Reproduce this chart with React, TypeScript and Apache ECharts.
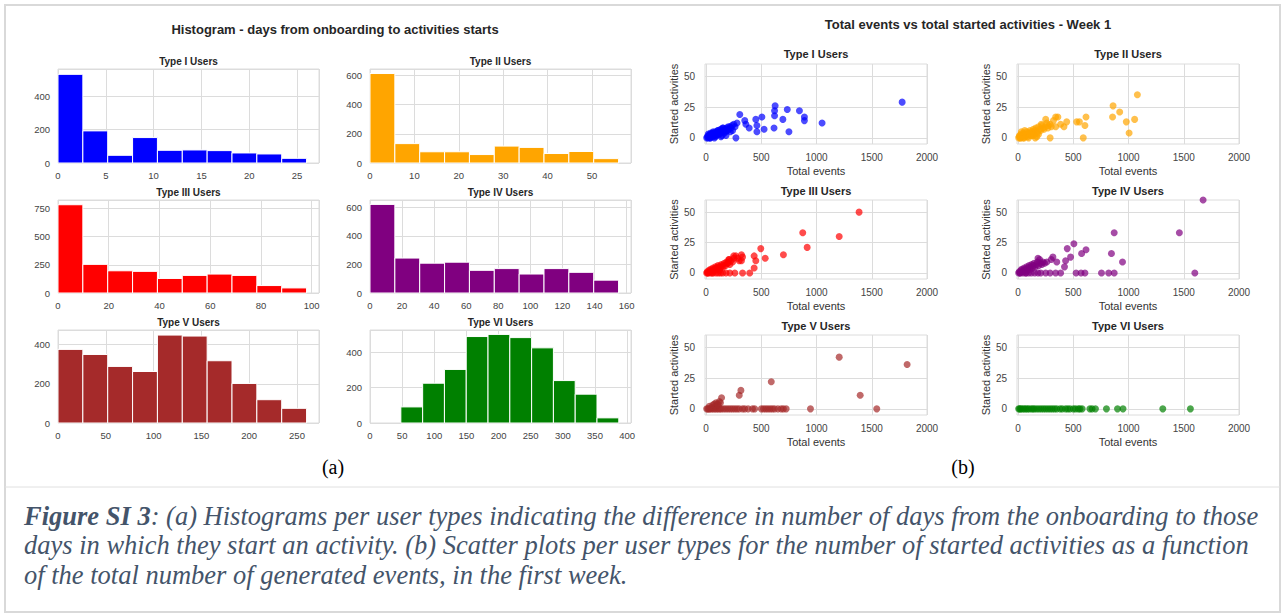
import React, { useEffect, useRef } from 'react';
import * as echarts from 'echarts';

const SANS = '"Liberation Sans", Arial, Helvetica, sans-serif';
const SERIF = '"Liberation Serif", "Times New Roman", serif';

// ---------- Histograms: days from onboarding to activity start ----------
const histTitles = ['Type I Users', 'Type II Users', 'Type III Users', 'Type IV Users', 'Type V Users', 'Type VI Users'];
const histColors = ['#0000ff', '#ffa500', '#ff0000', '#800080', '#a52a2a', '#008000'];
const histBinStarts = [0, 0, 0, 0, 0, 48];
const histBinWidths = [2.6, 5.6, 9.8, 15.5, 26, 33.9];
const typeIDays = [530, 192, 46, 152, 76, 78, 74, 60, 54, 28];
const typeIIDays = [614, 133, 77, 77, 58, 116, 107, 65, 79, 30];
const typeIIIDays = [783, 254, 197, 192, 129, 156, 168, 156, 66, 45];
const typeIVDays = [621, 245, 209, 216, 159, 171, 133, 171, 145, 90];
const typeVDays = [376, 350, 289, 263, 449, 444, 318, 202, 119, 75];
const typeVIDays = [91, 225, 303, 489, 501, 483, 425, 240, 163, 29];
const histCounts = [typeIDays, typeIIDays, typeIIIDays, typeIVDays, typeVDays, typeVIDays];
const histXMax = [27.3, 58.8, 102.9, 162.75, 273, 406];
const histXStep = [5, 10, 20, 20, 50, 50];
const histYMax = [562, 645, 825, 652, 475, 526];
const histYStep = [200, 200, 250, 200, 200, 200];

// ---------- Scatter: total events vs started activities (week 1) ----------
const scatterTitles = histTitles;
const scatterColors = histColors;
const scatterXTicks = [0, 500, 1000, 1500, 2000];
const scatterYTicks = [0, 25, 50];

const typeIEvents = [5, 12, 18, 25, 30, 38, 45, 52, 60, 66, 72, 80, 88, 95, 102, 110, 118, 125, 132, 140, 148, 155, 162, 170, 178, 185, 195, 205, 215, 225, 240, 250, 262, 20, 35, 48, 58, 75, 90, 105, 120, 135, 150, 165, 180, 200, 220, 28, 42, 65, 85, 115, 145, 175, 235, 270, 280, 305, 350, 360, 390, 450, 460, 460, 505, 525, 615, 620, 620, 625, 695, 735, 750, 845, 890, 890, 1050, 1775];
const typeIStarted = [0, 1, 0, 2, 1, 0, 3, 2, 1, 4, 2, 3, 5, 3, 4, 6, 4, 5, 7, 6, 5, 8, 6, 7, 5, 8, 6, 7, 9, 8, 6, 11, 9, 3, 0, 1, 4, 0, 2, 6, 3, 1, 8, 4, 2, 9, 5, 2, 4, 5, 1, 3, 2, 6, 10, 0, 12, 19, 14, 11, 8, 15, 10, 5, 17, 7, 8, 18, 22, 26, 15, 23, 5, 22, 17, 14, 12, 29];

const typeIIEvents = [5, 10, 15, 22, 28, 35, 40, 48, 55, 62, 70, 78, 85, 92, 100, 108, 115, 122, 130, 138, 145, 152, 160, 168, 175, 185, 195, 205, 215, 225, 235, 245, 260, 275, 290, 300, 20, 45, 65, 95, 125, 155, 185, 30, 60, 110, 140, 170, 250, 290, 340, 340, 360, 385, 415, 440, 530, 555, 590, 605, 615, 855, 860, 920, 980, 1005, 1055, 1080, 320, 270, 210];
const typeIIStarted = [0, 1, 2, 0, 3, 1, 2, 4, 0, 3, 2, 5, 1, 4, 3, 6, 2, 5, 4, 7, 3, 6, 8, 5, 4, 9, 7, 6, 10, 8, 7, 9, 12, 10, 11, 9, 0, 0, 1, 0, 2, 0, 3, 5, 6, 3, 2, 1, 15, 0, 17, 9, 17, 11, 9, 13, 13, 13, 0, 10, 17, 17, 26, 21, 13, 4, 15, 35, 14, 8, 11];

const typeIIIEvents = [5, 10, 18, 25, 32, 40, 48, 55, 62, 70, 78, 85, 92, 100, 108, 115, 122, 130, 138, 145, 155, 165, 175, 185, 195, 205, 215, 225, 240, 250, 15, 40, 65, 90, 110, 130, 150, 180, 215, 260, 330, 395, 195, 210, 270, 300, 320, 320, 330, 435, 435, 450, 495, 535, 700, 875, 915, 1205, 1385, 285, 250];
const typeIIIStarted = [0, 1, 0, 2, 1, 3, 2, 0, 4, 3, 2, 5, 4, 3, 6, 5, 2, 4, 7, 6, 5, 8, 6, 9, 8, 11, 7, 10, 9, 12, 0, 0, 0, 0, 0, 0, 0, 0, 0, 0, 0, 0, 8, 11, 14, 10, 15, 10, 13, 14, 4, 10, 20, 12, 15, 33, 21, 30, 50, 12, 14];

const typeIVEvents = [5, 10, 18, 25, 32, 40, 48, 55, 62, 70, 78, 85, 92, 100, 108, 115, 122, 130, 138, 145, 155, 165, 175, 185, 195, 205, 215, 225, 240, 20, 45, 70, 95, 120, 150, 180, 205, 250, 290, 340, 385, 180, 315, 350, 420, 430, 445, 475, 505, 525, 570, 575, 605, 615, 755, 820, 845, 870, 870, 945, 1460, 1600, 1675, 260, 300];
const typeIVStarted = [0, 1, 0, 2, 3, 1, 2, 4, 3, 0, 5, 2, 4, 6, 3, 5, 7, 4, 6, 8, 5, 7, 9, 6, 11, 8, 7, 9, 8, 0, 0, 0, 0, 0, 0, 0, 0, 0, 0, 0, 0, 12, 13, 9, 5, 10, 20, 13, 24, 0, 0, 16, 0, 19, 0, 0, 16, 0, 33, 9, 33, 0, 60, 9, 11];

const typeVEvents = [5, 15, 25, 35, 50, 65, 80, 95, 110, 125, 140, 160, 180, 200, 220, 240, 260, 280, 300, 330, 350, 380, 420, 440, 500, 520, 540, 560, 580, 600, 620, 650, 680, 700, 725, 945, 1545, 30, 50, 60, 75, 85, 90, 105, 110, 120, 130, 140, 300, 315, 590, 1205, 1395, 1820];
const typeVStarted = [0, 0, 0, 0, 0, 0, 0, 0, 0, 0, 0, 0, 0, 0, 0, 0, 0, 0, 0, 0, 0, 0, 0, 0, 0, 0, 0, 0, 0, 0, 0, 0, 0, 0, 0, 0, 0, 2, 1, 3, 4, 2, 5, 4, 3, 6, 5, 9, 11, 15, 22, 42, 11, 36];

const typeVIEvents = [5, 15, 25, 40, 55, 70, 85, 100, 120, 135, 150, 170, 190, 210, 230, 250, 270, 290, 310, 330, 350, 380, 400, 430, 450, 470, 500, 520, 545, 560, 580, 650, 670, 700, 800, 900, 950, 1310, 1560];
const typeVIStarted = [0, 0, 0, 0, 0, 0, 0, 0, 0, 0, 0, 0, 0, 0, 0, 0, 0, 0, 0, 0, 0, 0, 0, 0, 0, 0, 0, 0, 0, 0, 0, 0, 0, 0, 0, 0, 0, 0, 0];

const scatterEvents = [typeIEvents, typeIIEvents, typeIIIEvents, typeIVEvents, typeVEvents, typeVIEvents];
const scatterStarted = [typeIStarted, typeIIStarted, typeIIIStarted, typeIVStarted, typeVStarted, typeVIStarted];

const captionLines = [
  ['Figure SI 3', ': (a) Histograms per user types indicating the difference in number of days from the onboarding to those'],
  ['', 'days in which they start an activity. (b) Scatter plots per user types for the number of started activities as a function'],
  ['', 'of the total number of generated events, in the first week.'],
];

// ---------- layout ----------
const histLefts = [58, 370];
const histTops = [69, 200, 330];
const histW = 261;
const histH = [94, 93, 93];
const scatLefts = [705, 1017];
const scatTops = [64, 200, 335];
const scatW = 222;
const scatH = [80, 79, 80];

const GRID_LINE = '#dcdcdc';
const TICK_COLOR = '#444444';
const TITLE_COLOR = '#262626';

function multipleOf(v: number, step: number) {
  const r = v / step;
  return Math.abs(r - Math.round(r)) < 1e-6;
}

function buildOption() {
  const grid: any[] = [];
  const xAxis: any[] = [];
  const yAxis: any[] = [];
  const series: any[] = [];
  const graphic: any[] = [];

  const text = (x: number, y: number, str: string, size: number, weight = 'normal', color = TITLE_COLOR, family = SANS) => ({
    type: 'text', x, y, silent: true,
    style: {
      text: str, fill: color, fontSize: size, fontWeight: weight, fontFamily: family,
      align: 'center', verticalAlign: 'middle', textAlign: 'center', textVerticalAlign: 'middle',
    },
  });

  // histograms
  histCounts.forEach((counts, i) => {
    const col = i % 2;
    const row = Math.floor(i / 2);
    grid.push({
      left: histLefts[col], top: histTops[row], width: histW, height: histH[row],
      show: true, borderColor: GRID_LINE, borderWidth: 1, containLabel: false,
    });
    const xs = histXStep[i];
    const ys = histYStep[i];
    xAxis.push({
      type: 'value', gridIndex: i, min: 0, max: histXMax[i], interval: xs,
      axisLine: { show: false }, axisTick: { show: false },
      splitLine: { show: true, lineStyle: { color: GRID_LINE, width: 1 } },
      axisLabel: {
        color: TICK_COLOR, fontSize: 9.5, fontFamily: SANS, margin: 7,
        formatter: (v: number) => (multipleOf(v, xs) ? String(v) : ''),
      },
    });
    yAxis.push({
      type: 'value', gridIndex: i, min: 0, max: histYMax[i], interval: ys,
      axisLine: { show: false }, axisTick: { show: false },
      splitLine: { show: true, lineStyle: { color: GRID_LINE, width: 1 } },
      axisLabel: {
        color: TICK_COLOR, fontSize: 9.5, fontFamily: SANS, margin: 8,
        formatter: (v: number) => (multipleOf(v, ys) ? String(v) : ''),
      },
    });
    const start = histBinStarts[i];
    const w = histBinWidths[i];
    const color = histColors[i];
    series.push({
      type: 'custom', xAxisIndex: i, yAxisIndex: i, silent: true,
      encode: { x: [0, 1], y: 2 },
      data: counts.map((c, k) => [start + k * w, start + (k + 1) * w, c]),
      renderItem: (_p: any, api: any) => {
        const a = api.coord([api.value(0), api.value(2)]);
        const b = api.coord([api.value(1), 0]);
        return {
          type: 'rect',
          shape: { x: a[0], y: a[1], width: b[0] - a[0], height: b[1] - a[1] },
          style: { fill: color, stroke: '#ffffff', lineWidth: 1 },
        };
      },
    });
    graphic.push(text(histLefts[col] + histW / 2, [61, 192, 322][row], histTitles[i], 10, 'bold'));
  });

  // scatter plots
  scatterEvents.forEach((ev, j) => {
    const i = j + 6;
    const col = j % 2;
    const row = Math.floor(j / 2);
    grid.push({
      left: scatLefts[col], top: scatTops[row], width: scatW, height: scatH[row],
      show: true, borderColor: GRID_LINE, borderWidth: 1, containLabel: false,
    });
    xAxis.push({
      type: 'value', gridIndex: i, min: -10, max: 2000,
      name: 'Total events', nameLocation: 'middle', nameGap: 21,
      nameTextStyle: { color: '#333333', fontSize: 11, fontFamily: SANS },
      axisLine: { show: false },
      axisTick: { show: false, customValues: scatterXTicks },
      splitLine: { show: true, lineStyle: { color: GRID_LINE, width: 1 } },
      axisLabel: {
        color: TICK_COLOR, fontSize: 10, fontFamily: SANS, margin: 8,
        customValues: scatterXTicks, formatter: (v: number) => String(v),
      },
    });
    yAxis.push({
      type: 'value', gridIndex: i, min: -5, max: 60,
      name: 'Started activities', nameLocation: 'middle', nameGap: 25,
      nameTextStyle: { color: '#333333', fontSize: 11, fontFamily: SANS },
      axisLine: { show: false },
      axisTick: { show: false, customValues: scatterYTicks },
      splitLine: { show: true, lineStyle: { color: GRID_LINE, width: 1 } },
      axisLabel: {
        color: TICK_COLOR, fontSize: 10, fontFamily: SANS, margin: 10,
        customValues: scatterYTicks, formatter: (v: number) => String(v),
      },
    });
    const st = scatterStarted[j];
    series.push({
      type: 'scatter', xAxisIndex: i, yAxisIndex: i, silent: true, clip: true,
      symbol: 'circle', symbolSize: 7,
      itemStyle: { color: scatterColors[j], opacity: 0.7 },
      data: ev.map((x, k) => [x, st[k]]),
    });
    graphic.push(text(scatLefts[col] + scatW / 2, [54, 190.5, 325.5][row], scatterTitles[j], 11, 'bold'));
  });

  // figure headings
  graphic.push(text(335, 29, 'Histogram - days from onboarding to activities starts', 13, 'bold'));
  graphic.push(text(968, 24, 'Total events vs total started activities - Week 1', 13, 'bold'));
  graphic.push(text(333, 467, '(a)', 20, 'normal', '#000000', SERIF));
  graphic.push(text(963, 467, '(b)', 20, 'normal', '#000000', SERIF));

  // frame and separator
  graphic.push({ type: 'rect', silent: true, shape: { x: 5, y: 5, width: 1275, height: 607 }, style: { fill: 'none', stroke: '#d9d9d9', lineWidth: 2 } });
  graphic.push({ type: 'line', silent: true, shape: { x1: 5, y1: 487, x2: 1280, y2: 487 }, style: { stroke: '#e0e0e0', lineWidth: 1 } });

  // caption
  const capY = [516, 545, 575];
  captionLines.forEach(([bold, rest], k) => {
    graphic.push({
      type: 'text', x: 24, y: capY[k], silent: true,
      style: {
        text: (bold ? `{b|${bold}}` : '') + `{i|${rest}}`,
        align: 'left', verticalAlign: 'middle', textAlign: 'left', textVerticalAlign: 'middle',
        rich: {
          b: { fontFamily: SERIF, fontSize: 26.5, fontStyle: 'italic', fontWeight: 'bold', fill: '#44546a', color: '#44546a' },
          i: { fontFamily: SERIF, fontSize: 26.5, fontStyle: 'italic', fill: '#44546a', color: '#44546a' },
        },
      },
    });
  });

  return { animation: false, backgroundColor: '#ffffff', grid, xAxis, yAxis, series, graphic };
}

export default function App() {
  const ref = useRef<HTMLDivElement>(null);
  useEffect(() => {
    if (!ref.current) return;
    const chart = echarts.init(ref.current, undefined, { renderer: 'svg' });
    chart.setOption(buildOption() as any);
    return () => chart.dispose();
  }, []);
  return (
    <div
      ref={ref}
      style={{ position: 'absolute', left: 0, top: 0, width: 1284, height: 615, background: '#ffffff' }}
    />
  );
}
